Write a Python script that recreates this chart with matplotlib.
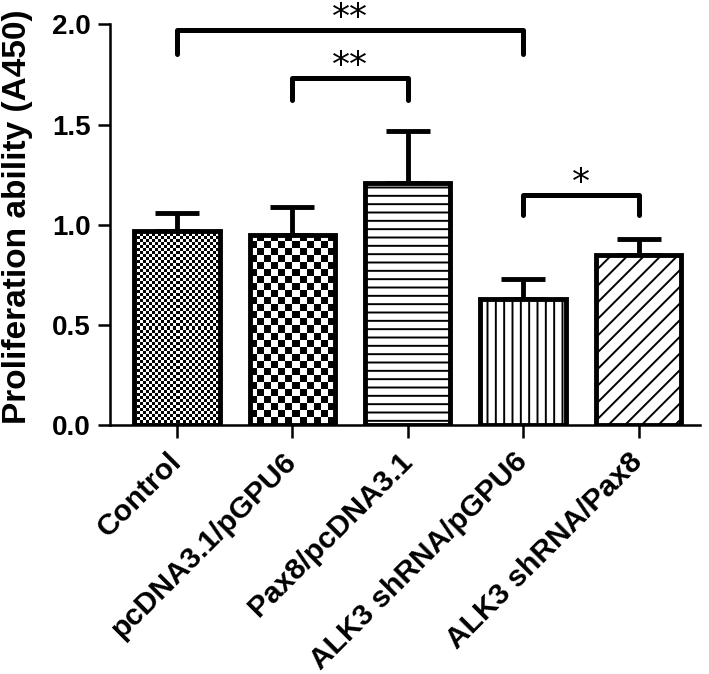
import numpy as np
import matplotlib
matplotlib.use("Agg")
import matplotlib.pyplot as plt

# Data
groups = ["Control", "pcDNA3.1/pGPU6", "Pax8/pcDNA3.1", "ALK3 shRNA/pGPU6", "ALK3 shRNA/Pax8"]
means = [0.97, 0.95, 1.21, 0.63, 0.85]
errors = [0.09, 0.14, 0.26, 0.10, 0.08]

# significance brackets: (left group, right group, label, bracket height, drop)
comparisons = [
    (0, 3, "**", 1.97, 0.12),
    (1, 2, "**", 1.73, 0.11),
    (3, 4, "*", 1.15, 0.10),
]

plt.rcParams["font.family"] = ["Liberation Sans", "DejaVu Sans"]
plt.rcParams["font.weight"] = "bold"
plt.rcParams["hatch.linewidth"] = 1.4

fig = plt.figure(figsize=(7.09, 6.74), dpi=100)
ax = fig.add_axes([0.155, 0.369, 0.832, 0.595])

x = np.arange(len(groups))
bar_w = 0.74
hatches = [None, None, "--", "||", "//"]
faces = ["none", "none", "white", "white", "white"]

ax.errorbar(x, means, yerr=[np.zeros(len(means)), errors], fmt="none",
            ecolor="black", elinewidth=3.5, capsize=16, capthick=3.5, zorder=1)
bars = ax.bar(x, means, width=bar_w, color=faces, edgecolor="black",
              linewidth=3.5, zorder=3)
for b, h in zip(bars, hatches):
    if h:
        b.set_hatch(h)

ax.set_xlim(-0.58, 4.53)
ax.set_ylim(0, 2.0)
fig.canvas.draw()

# checkerboard fills for the first two bars, built at pixel resolution
def checker_fill(bar, cell):
    bb = bar.get_window_extent()
    nx, ny = int(bb.width), int(bb.height)
    yy, xx = np.indices((ny, nx))
    img = ((xx // cell + yy // cell) % 2 == 0).astype(float)
    x0 = bar.get_x()
    im = ax.imshow(img, cmap="gray", vmin=0, vmax=1, interpolation="nearest",
                   extent=[x0, x0 + bar.get_width(), 0, bar.get_height()],
                   aspect="auto", zorder=2)
    im.set_clip_path(bar)

checker_fill(bars[0], 3)
checker_fill(bars[1], 7)
ax.set_xlim(-0.58, 4.53)
ax.set_ylim(0, 2.0)

ax.set_yticks([0.0, 0.5, 1.0, 1.5, 2.0])
ax.set_yticklabels(["0.0", "0.5", "1.0", "1.5", "2.0"], fontsize=20, fontweight="bold")
ax.set_xticks(x)
ax.set_xticklabels(groups, rotation=45, ha="right", va="center",
                   rotation_mode="anchor", fontsize=21.5, fontweight="bold")
ax.set_ylabel("Proliferation ability (A450)", fontsize=24, fontweight="bold")
ax.yaxis.set_label_coords(-0.13, 0.52)

for s in ["top", "right"]:
    ax.spines[s].set_visible(False)
for s in ["left", "bottom"]:
    ax.spines[s].set_linewidth(1.8)
ax.tick_params(axis="both", direction="out", length=9, width=1.8, pad=5)
ax.tick_params(axis="x", pad=14)

# brackets
for a, b, lab, h, d in comparisons:
    ax.plot([a, a, b, b], [h - d, h, h, h - d], color="black", lw=3.6,
            solid_capstyle="round", solid_joinstyle="round", clip_on=False, zorder=5)
    ax.text((a + b) / 2, h + 0.06, lab, ha="center", va="center",
            fontsize=26, fontweight="normal", family="DejaVu Sans")

fig.savefig("out.png", dpi=100)
